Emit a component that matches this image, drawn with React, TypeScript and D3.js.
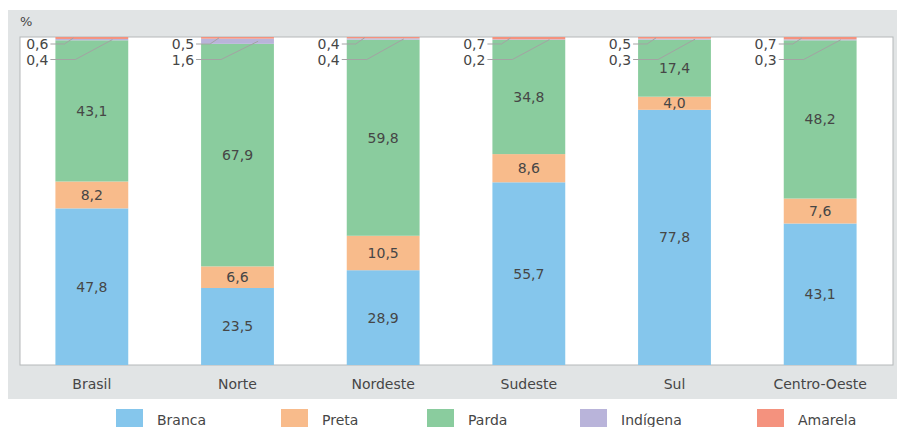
import React from "react";
import * as d3 from "d3";

const categories = ["Brasil", "Norte", "Nordeste", "Sudeste", "Sul", "Centro-Oeste"];
const seriesNames = ["Branca", "Preta", "Parda", "Indígena", "Amarela"];
const branca = [47.8, 23.5, 28.9, 55.7, 77.8, 43.1];
const preta = [8.2, 6.6, 10.5, 8.6, 4.0, 7.6];
const parda = [43.1, 67.9, 59.8, 34.8, 17.4, 48.2];
const indigena = [0.4, 1.6, 0.4, 0.2, 0.3, 0.3];
const amarela = [0.6, 0.5, 0.4, 0.7, 0.5, 0.7];
const colors = ["#85C6EC", "#F8BB8B", "#8ACC9E", "#B9B4DA", "#F4927E"];

const fmt = (v: number) => v.toFixed(1).replace(".", ",");

export default function App() {
  const W = 897, H = 427;
  const left = 20, right = 893, top = 37, bottom = 365;
  const keys = seriesNames;
  const seriesArr = [branca, preta, parda, indigena, amarela];
  const rows = categories.map((c, i) => {
    const r: any = { cat: c };
    keys.forEach((k, j) => (r[k] = seriesArr[j][i]));
    return r;
  });
  const stack = d3.stack<any>().keys(keys).offset(d3.stackOffsetExpand);
  const stacked = stack(rows);
  const x = d3.scaleBand().domain(categories).range([left - 1, right]).paddingInner(0.5).paddingOuter(0.25);
  const y = d3.scaleLinear().domain([0, 1]).range([bottom, top]);
  const bw = x.bandwidth();
  const font = "'DejaVu Sans', Verdana, sans-serif";
  const textColor = "#464646";
  const lineColor = "#A3A3A3";

  const legendX = [116, 281, 427, 580, 757];

  return (
    <svg width={W} height={H} style={{ position: "absolute", left: 0, top: 0, background: "#fff" }}>
      <rect x={8} y={10} width={W - 8} height={389} fill="#E1E4E5" />
      <rect x={left} y={top} width={right - left} height={bottom - top} fill="#fff" stroke="#B5B8BA" strokeWidth={1} />
      <text x={20} y={21} dominantBaseline="central" fontFamily={font} fontSize={13} fill={textColor}>%</text>
      {stacked.map((s, j) => (
        <g key={s.key}>
          {s.map((d, i) => (
            <rect
              key={i}
              x={x(categories[i])}
              y={y(d[1])}
              width={bw}
              height={y(d[0]) - y(d[1])}
              fill={colors[j]}
            />
          ))}
        </g>
      ))}
      {stacked.slice(0, 3).map((s, j) => (
        <g key={"l" + s.key}>
          {s.map((d, i) => (
            <text
              key={i}
              x={(x(categories[i]) as number) + bw / 2}
              y={(y(d[0]) + y(d[1])) / 2}
              textAnchor="middle"
              dominantBaseline="central"
              fontFamily={font}
              fontSize={14}
              fill={textColor}
            >
              {fmt(seriesArr[j][i])}
            </text>
          ))}
        </g>
      ))}
      {categories.map((c, i) => {
        const x0 = x(c) as number;
        const am = stacked[4][i];
        const ind = stacked[3][i];
        const yA = (y(am[0]) + y(am[1])) / 2;
        const yI = (y(ind[0]) + y(ind[1])) / 2;
        const y1 = 44, y2 = 59.5;
        return (
          <g key={"s" + c}>
            <polyline points={`${x0 - 5},${y1} ${x0 + 9},${y1} ${x0 + 18},${yA}`} fill="none" stroke={lineColor} strokeWidth={1} />
            <polyline points={`${x0 - 5},${y2} ${x0 + 20},${y2} ${x0 + 57},${yI}`} fill="none" stroke={lineColor} strokeWidth={1} />
            <text x={x0 - 7} y={y1} textAnchor="end" dominantBaseline="central" fontFamily={font} fontSize={14} fill={textColor}>
              {fmt(amarela[i])}
            </text>
            <text x={x0 - 7} y={y2} textAnchor="end" dominantBaseline="central" fontFamily={font} fontSize={14} fill={textColor}>
              {fmt(indigena[i])}
            </text>
          </g>
        );
      })}
      {categories.map((c) => (
        <text
          key={"x" + c}
          x={(x(c) as number) + bw / 2}
          y={384}
          textAnchor="middle"
          dominantBaseline="central"
          fontFamily={font}
          fontSize={14}
          fill={textColor}
        >
          {c}
        </text>
      ))}
      {seriesNames.map((n, j) => (
        <g key={"lg" + n}>
          <rect x={legendX[j]} y={409} width={27} height={18} fill={colors[j]} />
          <text x={legendX[j] + 41} y={420} dominantBaseline="central" fontFamily={font} fontSize={14} fill={textColor}>
            {n}
          </text>
        </g>
      ))}
    </svg>
  );
}
